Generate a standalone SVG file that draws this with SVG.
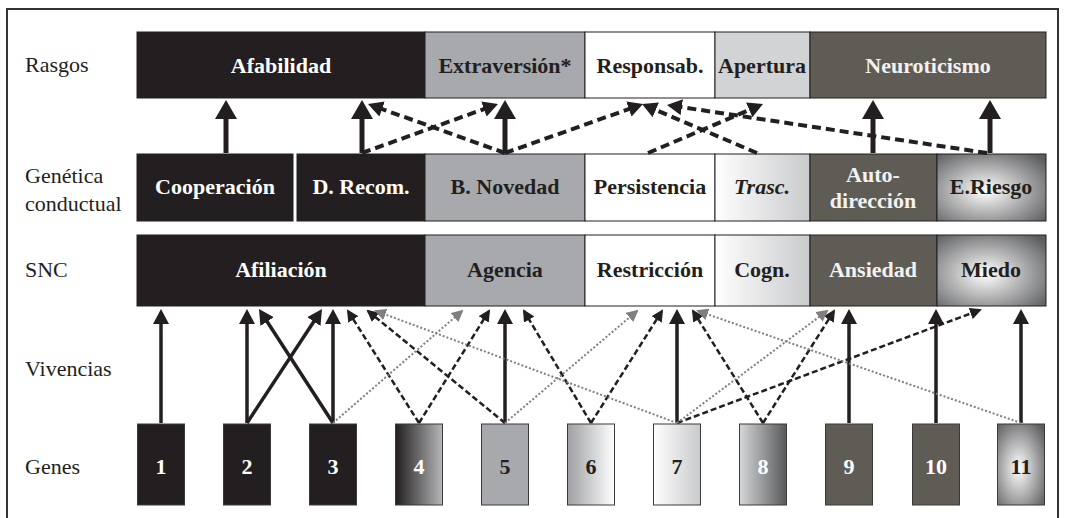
<svg xmlns="http://www.w3.org/2000/svg" width="1066" height="518" viewBox="0 0 1066 518">
  <style>
    .lbl { font-family: "Liberation Serif", "Times New Roman", serif; font-size: 22px; fill: #231f20; }
    .bx { font-family: "Liberation Serif", "Times New Roman", serif; font-size: 22px; font-weight: bold; text-anchor: middle; }
    .num { font-family: "Liberation Serif", "Times New Roman", serif; font-size: 22px; font-weight: bold; text-anchor: middle; }
    .lt { fill: #ffffff; }
    .dk { fill: #231f20; }
    .cell { stroke: #231f20; stroke-width: 1; }
    .gene { stroke: #3a3a3a; stroke-width: 1; }
    .blk { fill: #231f20; }
    .gry { fill: #a7a9ac; }
    .wht { fill: #ffffff; }
    .pal { fill: #d1d3d4; }
    .olv { fill: #5f5c55; }
    .thick { stroke: #231f20; stroke-width: 5; fill: none; marker-end: url(#aBig); }
    .thickdash { stroke: #231f20; stroke-width: 4; fill: none; stroke-dasharray: 9 5; marker-end: url(#aDash); }
    .mid { stroke: #231f20; stroke-width: 3.5; fill: none; marker-end: url(#aMid); }
    .thindash { stroke: #231f20; stroke-width: 2.5; fill: none; stroke-dasharray: 6 3; marker-end: url(#aSmall); }
    .dot { stroke: #7f7f7f; stroke-width: 2; fill: none; stroke-dasharray: 2 2; marker-end: url(#aGray); }
  </style>
  <defs>
    <linearGradient id="gWhiteGray" x1="0" y1="0" x2="1" y2="0">
      <stop offset="0" stop-color="#ffffff"/>
      <stop offset="1" stop-color="#c9cacc"/>
    </linearGradient>
    <linearGradient id="gBlackGray" x1="0" y1="0" x2="1" y2="0">
      <stop offset="0" stop-color="#231f20"/>
      <stop offset="1" stop-color="#b5b6b8"/>
    </linearGradient>
    <linearGradient id="gGrayWhite" x1="0" y1="0" x2="1" y2="0">
      <stop offset="0" stop-color="#9d9fa2"/>
      <stop offset="1" stop-color="#ffffff"/>
    </linearGradient>
    <linearGradient id="gLightDark" x1="0" y1="0" x2="1" y2="0">
      <stop offset="0" stop-color="#d6d7d9"/>
      <stop offset="1" stop-color="#58595b"/>
    </linearGradient>
    <radialGradient id="gGlow" cx="0.45" cy="0.55" r="0.7">
      <stop offset="0" stop-color="#ffffff"/>
      <stop offset="1" stop-color="#5d5e60"/>
    </radialGradient>
    <marker id="aBig" markerUnits="userSpaceOnUse" viewBox="0 0 19 22" markerWidth="19" markerHeight="22" refX="13" refY="11" orient="auto">
      <path d="M0,0 L19,11 L0,22 z" fill="#231f20"/>
    </marker>
    <marker id="aDash" markerUnits="userSpaceOnUse" viewBox="0 0 15 16" markerWidth="15" markerHeight="16" refX="10" refY="8" orient="auto">
      <path d="M0,0 L15,8 L0,16 z" fill="#231f20"/>
    </marker>
    <marker id="aMid" markerUnits="userSpaceOnUse" viewBox="0 0 15 16" markerWidth="15" markerHeight="16" refX="10" refY="8" orient="auto">
      <path d="M0,0 L15,8 L0,16 z" fill="#231f20"/>
    </marker>
    <marker id="aSmall" markerUnits="userSpaceOnUse" viewBox="0 0 12 12" markerWidth="12" markerHeight="12" refX="10" refY="6" orient="auto">
      <path d="M0,0 L12,6 L0,12 z" fill="#231f20"/>
    </marker>
    <marker id="aGray" markerUnits="userSpaceOnUse" viewBox="0 0 12 12" markerWidth="12" markerHeight="12" refX="10" refY="6" orient="auto">
      <path d="M0,0 L12,6 L0,12 z" fill="#7f7f7f"/>
    </marker>
  </defs>

  <rect width="1066" height="518" fill="#ffffff"/>
  <!-- outer frame -->
  <rect x="7" y="9" width="1051" height="520" fill="none" stroke="#333333" stroke-width="2"/>

  <!-- row labels -->
  <g id="row-labels">
    <text class="lbl" x="25" y="72">Rasgos</text>
    <text class="lbl" x="25" y="183">Genética</text>
    <text class="lbl" x="25" y="211">conductual</text>
    <text class="lbl" x="25" y="277">SNC</text>
    <text class="lbl" x="25" y="376">Vivencias</text>
    <text class="lbl" x="25" y="474">Genes</text>
  </g>

  <!-- Rasgos -->
  <g id="afabilidad"><rect class="cell blk" x="137" y="32" width="288" height="66"/><text class="bx lt" x="281" y="73">Afabilidad</text></g>
  <g id="extraversion"><rect class="cell gry" x="425" y="32" width="160" height="66"/><text class="bx dk" x="505" y="73">Extraversión*</text></g>
  <g id="responsab"><rect class="cell wht" x="585" y="32" width="130" height="66"/><text class="bx dk" x="650" y="73">Responsab.</text></g>
  <g id="apertura"><rect class="cell pal" x="715" y="32" width="95" height="66"/><text class="bx dk" x="762" y="73">Apertura</text></g>
  <g id="neuroticismo"><rect class="cell olv" x="810" y="32" width="236" height="66"/><text class="bx" fill="#f2f2f2" x="928" y="73">Neuroticismo</text></g>

  <!-- Genética conductual -->
  <g id="cooperacion"><rect class="cell blk" x="137" y="154" width="156" height="67"/><text class="bx lt" x="215" y="194">Cooperación</text></g>
  <g id="d-recom"><rect class="cell blk" x="297" y="154" width="128" height="67"/><text class="bx lt" x="361" y="194">D. Recom.</text></g>
  <g id="b-novedad"><rect class="cell gry" x="425" y="154" width="160" height="67"/><text class="bx dk" x="505" y="194">B. Novedad</text></g>
  <g id="persistencia"><rect class="cell wht" x="585" y="154" width="130" height="67"/><text class="bx dk" x="650" y="194">Persistencia</text></g>
  <g id="trasc"><rect class="cell" fill="url(#gWhiteGray)" x="715" y="154" width="95" height="67"/><text class="bx dk" font-style="italic" x="762" y="194">Trasc.</text></g>
  <g id="auto-direccion"><rect class="cell olv" x="810" y="154" width="127" height="67"/><text class="bx" fill="#f2f2f2" x="873" y="182">Auto-</text><text class="bx" fill="#f2f2f2" x="873" y="208">dirección</text></g>
  <g id="e-riesgo"><rect class="cell" fill="url(#gGlow)" x="937" y="154" width="109" height="67"/><text class="bx dk" x="991" y="194">E.Riesgo</text></g>

  <!-- SNC -->
  <g id="afiliacion"><rect class="cell blk" x="137" y="235" width="288" height="71"/><text class="bx lt" x="281" y="277">Afiliación</text></g>
  <g id="agencia"><rect class="cell gry" x="425" y="235" width="160" height="71"/><text class="bx dk" x="505" y="277">Agencia</text></g>
  <g id="restriccion"><rect class="cell wht" x="585" y="235" width="130" height="71"/><text class="bx dk" x="650" y="277">Restricción</text></g>
  <g id="cogn"><rect class="cell" fill="url(#gWhiteGray)" x="715" y="235" width="95" height="71"/><text class="bx dk" x="762" y="277">Cogn.</text></g>
  <g id="ansiedad"><rect class="cell olv" x="810" y="235" width="127" height="71"/><text class="bx" fill="#f2f2f2" x="873" y="277">Ansiedad</text></g>
  <g id="miedo"><rect class="cell" fill="url(#gGlow)" x="937" y="235" width="109" height="71"/><text class="bx dk" x="991" y="277">Miedo</text></g>

  <!-- Genes -->
  <g id="gene-1"><rect class="gene blk" x="137.5" y="424" width="47" height="81"/><text class="num lt" x="161" y="474">1</text></g>
  <g id="gene-2"><rect class="gene blk" x="223.5" y="424" width="47" height="81"/><text class="num lt" x="247" y="474">2</text></g>
  <g id="gene-3"><rect class="gene blk" x="309.5" y="424" width="47" height="81"/><text class="num lt" x="333" y="474">3</text></g>
  <g id="gene-4"><rect class="gene" fill="url(#gBlackGray)" x="395.5" y="424" width="47" height="81"/><text class="num lt" x="419" y="474">4</text></g>
  <g id="gene-5"><rect class="gene gry" x="481.5" y="424" width="47" height="81"/><text class="num dk" x="505" y="474">5</text></g>
  <g id="gene-6"><rect class="gene" fill="url(#gGrayWhite)" x="567.5" y="424" width="47" height="81"/><text class="num dk" x="591" y="474">6</text></g>
  <g id="gene-7"><rect class="gene" fill="url(#gWhiteGray)" x="653.5" y="424" width="47" height="81"/><text class="num dk" x="677" y="474">7</text></g>
  <g id="gene-8"><rect class="gene" fill="url(#gLightDark)" x="739.5" y="424" width="47" height="81"/><text class="num lt" x="763" y="474">8</text></g>
  <g id="gene-9"><rect class="gene olv" x="825.5" y="424" width="47" height="81"/><text class="num lt" x="849" y="474">9</text></g>
  <g id="gene-10"><rect class="gene olv" x="912.5" y="424" width="47" height="81"/><text class="num lt" x="936" y="474">10</text></g>
  <g id="gene-11"><rect class="gene" fill="url(#gGlow)" x="997.5" y="424" width="47" height="81"/><text class="num dk" x="1021" y="474">11</text></g>

  <g id="connectors">
    <!-- Genética conductual to Rasgos -->
    <line class="thick" x1="226" y1="153" x2="226" y2="106"/>
    <line class="thick" x1="362" y1="153" x2="362" y2="106"/>
    <line class="thick" x1="505" y1="153" x2="505" y2="106"/>
    <line class="thick" x1="873" y1="153" x2="873" y2="106"/>
    <line class="thick" x1="990" y1="153" x2="990" y2="106"/>
    <line class="thickdash" x1="362" y1="153" x2="493.3" y2="105.7"/>
    <line class="thickdash" x1="505" y1="153" x2="372.7" y2="105.7"/>
    <line class="thickdash" x1="505" y1="153" x2="638.3" y2="105.7"/>
    <line class="thickdash" x1="757" y1="153" x2="646.6" y2="106"/>
    <line class="thickdash" x1="648" y1="153" x2="758.4" y2="106"/>
    <line class="thickdash" x1="987" y1="153" x2="671.9" y2="105.7"/>

    <!-- Genes to SNC -->
    <line class="mid" x1="161" y1="423" x2="161" y2="314"/>
    <line class="mid" x1="247" y1="423" x2="247" y2="314"/>
    <line class="mid" x1="333" y1="423" x2="333" y2="314"/>
    <line class="mid" x1="505" y1="423" x2="505" y2="314"/>
    <line class="mid" x1="677" y1="423" x2="677" y2="314"/>
    <line class="mid" x1="849" y1="423" x2="849" y2="314"/>
    <line class="mid" x1="936" y1="423" x2="936" y2="314"/>
    <line class="mid" x1="1021" y1="423" x2="1021" y2="314"/>
    <line class="mid" x1="247" y1="423" x2="319.3" y2="313.2"/>
    <line class="mid" x1="333" y1="423" x2="261.7" y2="313.2"/>

    <line class="thindash" x1="419" y1="423" x2="348" y2="311"/>
    <line class="thindash" x1="419" y1="423" x2="489" y2="311"/>
    <line class="thindash" x1="505" y1="423" x2="368" y2="311"/>
    <line class="thindash" x1="591" y1="423" x2="524" y2="311"/>
    <line class="thindash" x1="591" y1="423" x2="662" y2="311"/>
    <line class="thindash" x1="763" y1="423" x2="693" y2="311"/>
    <line class="thindash" x1="763" y1="423" x2="834" y2="311"/>
    <line class="thindash" x1="677" y1="423" x2="980" y2="310"/>

    <line class="dot" x1="333" y1="423" x2="462" y2="311"/>
    <line class="dot" x1="505" y1="423" x2="637" y2="311"/>
    <line class="dot" x1="677" y1="423" x2="376" y2="311"/>
    <line class="dot" x1="677" y1="423" x2="827" y2="311"/>
    <line class="dot" x1="1021" y1="423" x2="698" y2="311"/>
  </g>
</svg>
